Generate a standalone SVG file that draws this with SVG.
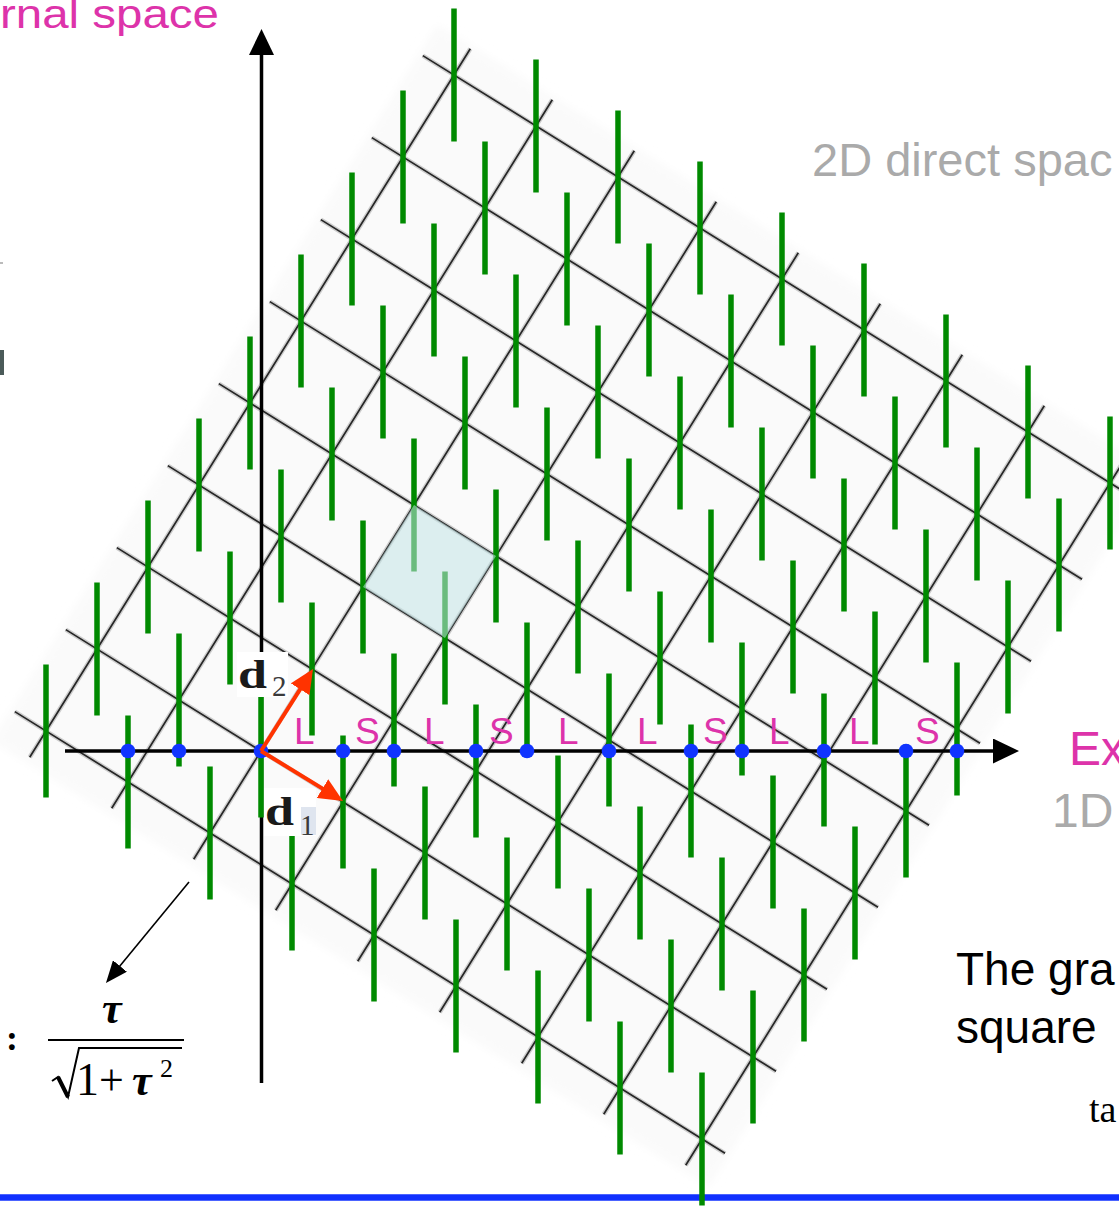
<svg xmlns="http://www.w3.org/2000/svg" xmlns:xlink="http://www.w3.org/1999/xlink" width="1119" height="1207" viewBox="0 0 1119 1207">
<style>
.bar{stroke:#008a00;stroke-width:5.5;fill:none}
.halo{stroke:#8a8a8a;stroke-width:4.5;stroke-opacity:.4;fill:none}
.core{stroke:#262626;stroke-width:1.7;fill:none}
.ax{stroke:#000;stroke-width:3.5;fill:none}
.dot{fill:#1034ff}
.vec{stroke:#ff3300;stroke-width:4;fill:none}
.sans{font-family:"Liberation Sans",Arial,sans-serif}
.serif{font-family:"Liberation Serif","Times New Roman",serif}
.ls{font-size:37px;fill:#dd33aa}
.mag{fill:#dd33aa}
.gray{fill:#aaaaaa}
</style>
<defs>
<filter id="soft" x="-10%" y="-10%" width="120%" height="120%"><feGaussianBlur stdDeviation="5"/></filter>
<marker id="redHead" markerUnits="userSpaceOnUse" markerWidth="24" markerHeight="22" refX="4" refY="11" orient="auto"><path d="M0,0 L24,11 L0,22 z" fill="#ff3300"/></marker>
<marker id="axHead" markerUnits="userSpaceOnUse" markerWidth="26" markerHeight="25" refX="2" refY="12.5" orient="auto"><path d="M0,0 L26,12.5 L0,25 z" fill="#000"/></marker>
<marker id="thinHead" markerUnits="userSpaceOnUse" markerWidth="22" markerHeight="18" refX="4" refY="9" orient="auto"><path d="M0,0 L22,9 L0,18 z" fill="#000"/></marker>
<path id="gl" d="M14.8,711.6L725,1153.3M65.8,629.6L776,1071.3M116.8,547.6L827,989.3M167.8,465.6L878,907.3M218.8,383.6L929,825.3M269.8,301.6L980,743.3M320.8,219.6L1031,661.3M371.8,137.6L1082,579.3M422.8,55.6L1133,497.3M29.7,757.2L470.3,48.8M111.7,808.2L552.3,99.8M193.7,859.2L634.3,150.8M275.7,910.2L716.3,201.8M357.7,961.2L798.3,252.8M439.7,1012.2L880.3,303.8M521.7,1063.2L962.3,354.8M603.7,1114.2L1044.3,405.8M685.7,1165.2L1126.3,456.8"/>
</defs>
<rect width="1119" height="1207" fill="#fff"/>
<g id="edge-slivers">
<rect x="0" y="262" width="3" height="2" fill="#bbbbbb"/>
<rect x="0" y="350" width="4" height="25" fill="#4b5b59"/>
</g>
<g id="lattice-background">
<polygon points="-7.8,740.8 437.5,24.9 1154,470.6 708.8,1186.5" fill="#fafafa" filter="url(#soft)"/>
</g>
<g id="bottom-rule">
<line x1="0" y1="1197.5" x2="1119" y2="1197.5" stroke="#1030ff" stroke-width="6.5"/>
</g>
<g id="grid">
<use xlink:href="#gl" class="halo"/>
<use xlink:href="#gl" class="core"/>
</g>
<g id="axes">
<line class="ax" x1="65" y1="751" x2="995" y2="751" marker-end="url(#axHead)"/>
<line class="ax" x1="261.5" y1="1083" x2="261.5" y2="53" marker-end="url(#axHead)"/>
</g>
<g id="atomic-surfaces">
<path class="bar" d="M46,664.5v133M128,715.5v133M210,766.5v133M292,817.5v133M374,868.5v133M456,919.5v133M538,970.5v133M620,1021.5v133M702,1072.5v133"/>
<path class="bar" d="M97,582.5v133M179,633.5v133M261,684.5v133M343,735.5v133M425,786.5v133M507,837.5v133M589,888.5v133M671,939.5v133M753,990.5v133"/>
<path class="bar" d="M148,500.5v133M230,551.5v133M312,602.5v133M394,653.5v133M476,704.5v133M558,755.5v133M640,806.5v133M722,857.5v133M804,908.5v133"/>
<path class="bar" d="M199,418.5v133M281,469.5v133M363,520.5v133M445,571.5v133M527,622.5v133M609,673.5v133M691,724.5v133M773,775.5v133M855,826.5v133"/>
<path class="bar" d="M250,336.5v133M332,387.5v133M414,438.5v133M496,489.5v133M578,540.5v133M660,591.5v133M742,642.5v133M824,693.5v133M906,744.5v133"/>
<path class="bar" d="M301,254.5v133M383,305.5v133M465,356.5v133M547,407.5v133M629,458.5v133M711,509.5v133M793,560.5v133M875,611.5v133M957,662.5v133"/>
<path class="bar" d="M352,172.5v133M434,223.5v133M516,274.5v133M598,325.5v133M680,376.5v133M762,427.5v133M844,478.5v133M926,529.5v133M1008,580.5v133"/>
<path class="bar" d="M403,90.5v133M485,141.5v133M567,192.5v133M649,243.5v133M731,294.5v133M813,345.5v133M895,396.5v133M977,447.5v133M1059,498.5v133"/>
<path class="bar" d="M454,8.5v133M536,59.5v133M618,110.5v133M700,161.5v133M782,212.5v133M864,263.5v133M946,314.5v133M1028,365.5v133M1110,416.5v133"/>
</g>
<g id="unit-cell">
<polygon points="363,587 445,638 496,556 414,505" fill="#c2e3e6" fill-opacity="0.55"/>
</g>
<g id="projected-points">
<circle class="dot" cx="128" cy="751" r="7.3"/>
<circle class="dot" cx="179" cy="751" r="7.3"/>
<circle class="dot" cx="261" cy="751" r="7.3"/>
<circle class="dot" cx="343" cy="751" r="7.3"/>
<circle class="dot" cx="394" cy="751" r="7.3"/>
<circle class="dot" cx="476" cy="751" r="7.3"/>
<circle class="dot" cx="527" cy="751" r="7.3"/>
<circle class="dot" cx="609" cy="751" r="7.3"/>
<circle class="dot" cx="691" cy="751" r="7.3"/>
<circle class="dot" cx="742" cy="751" r="7.3"/>
<circle class="dot" cx="824" cy="751" r="7.3"/>
<circle class="dot" cx="906" cy="751" r="7.3"/>
<circle class="dot" cx="957" cy="751" r="7.3"/>
</g>
<g id="tiling-labels" class="sans ls">
<text x="294" y="744">L</text>
<text x="355" y="744">S</text>
<text x="424" y="744">L</text>
<text x="489" y="744">S</text>
<text x="558" y="744">L</text>
<text x="637" y="744">L</text>
<text x="703" y="744">S</text>
<text x="769" y="744">L</text>
<text x="849" y="744">L</text>
<text x="915" y="744">S</text>
</g>
<g id="basis-vectors">
<line class="vec" x1="261" y1="751" x2="302.3" y2="685.9" marker-end="url(#redHead)"/>
<line class="vec" x1="261" y1="751" x2="325.9" y2="790.6" marker-end="url(#redHead)"/>
</g>
<g id="label-d2">
<rect x="237" y="652" width="51" height="45" fill="#fff"/>
<text class="serif" x="238" y="688" font-size="40" font-weight="bold" fill="#1a1a1a" textLength="29" lengthAdjust="spacingAndGlyphs">d</text>
<text class="serif" x="272" y="696" font-size="29" fill="#3a3a3a">2</text>
</g>
<g id="label-d1">
<rect x="264" y="788" width="52" height="48" fill="#fff"/>
<rect x="301" y="807" width="15" height="28" fill="#dfe5ef"/>
<text class="serif" x="265" y="825" font-size="40" font-weight="bold" fill="#1a1a1a" textLength="29" lengthAdjust="spacingAndGlyphs">d</text>
<text class="serif" x="300" y="835" font-size="29" fill="#3a3a3a">1</text>
</g>
<g id="slope-annotation">
<line x1="189" y1="882" x2="117.4" y2="969.1" stroke="#000" stroke-width="1.6" marker-end="url(#thinHead)"/>
<text class="serif" x="6" y="1050" font-size="36" font-weight="bold">:</text>
<text class="serif" x="102" y="1023" font-size="44" font-weight="bold" font-style="italic">τ</text>
<line x1="48" y1="1040" x2="184" y2="1040" stroke="#000" stroke-width="2"/>
<path d="M52,1081 L58,1077 L68,1097 L79,1048 L182,1048" fill="none" stroke="#000" stroke-width="2"/>
<path d="M58,1077 L68,1097" fill="none" stroke="#000" stroke-width="4"/>
<text class="serif" x="76" y="1095" font-size="46">1</text>
<text class="serif" x="99" y="1095" font-size="44">+</text>
<text class="serif" x="132" y="1095" font-size="44" font-weight="bold" font-style="italic">τ</text>
<text class="serif" x="160" y="1077" font-size="26">2</text>
</g>
<g id="titles">
<text class="sans mag" x="0" y="28" font-size="40" textLength="219" lengthAdjust="spacingAndGlyphs">rnal space</text>
<text class="sans gray" x="812" y="176" font-size="47">2D direct spac</text>
<text class="sans mag" x="1069" y="765" font-size="48">Ex</text>
<text class="sans gray" x="1052" y="827" font-size="48">1D</text>
<text class="sans" x="956" y="985" font-size="46" fill="#000">The gra</text>
<text class="sans" x="956" y="1043" font-size="46" fill="#000">square</text>
<text class="serif" x="1089" y="1122" font-size="38" fill="#000">ta</text>
</g>
</svg>
